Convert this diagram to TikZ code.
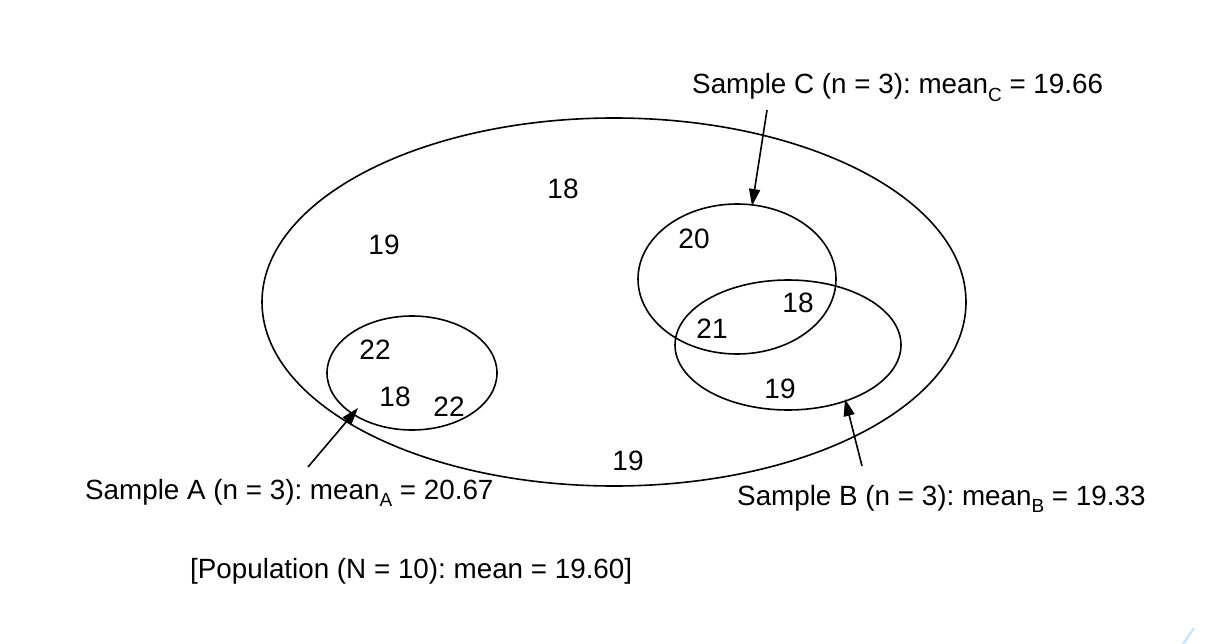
\documentclass[tikz,border=0pt]{standalone}
\usepackage{fontspec}
\setmainfont{Liberation Sans}
\usetikzlibrary{arrows.meta}
\frenchspacing
\definecolor{faintblue}{RGB}{200,225,250}
\newcommand{\lowsub}[1]{\raisebox{-0.28em}{\fontsize{19pt}{20pt}\selectfont #1}}
\begin{document}
\begin{tikzpicture}[x=1pt,y=-1pt,
  ring/.style={draw=black,line width=1.6pt},
  num/.style={font=\fontsize{28pt}{30pt}\selectfont,inner sep=0pt},
  lab/.style={font=\fontsize{27.8pt}{30pt}\selectfont,inner sep=0pt,anchor=base west},
  pointer/.style={draw=black,line width=1.6pt,-{Triangle[length=17pt,width=11pt]}}]
\useasboundingbox (0,0) rectangle (1222,644);
% ellipses
\draw[ring] (614,302) ellipse [x radius=352, y radius=184];
\draw[ring] (412,373) ellipse [x radius=85, y radius=57];
\draw[ring] (737,279) ellipse [x radius=99, y radius=75];
\draw[ring] (788,345) ellipse [x radius=113, y radius=65];
% numbers
\node[num] (n1) at (563,189) {18};
\node[num] (n2) at (384,245) {19};
\node[num] (n3) at (375,350) {22};
\node[num] (n4) at (395,397) {18};
\node[num] (n5) at (449,407) {22};
\node[num] (n6) at (694,239) {20};
\node[num] (n7) at (798,303) {18};
\node[num] (n8) at (712,329) {21};
\node[num] (n9) at (780,389) {19};
\node[num] (n10) at (628,461) {19};
% labels
\node[lab] (labC) at (692,94) {Sample C (n = 3): mean\lowsub{C} = 19.66};
\node[lab] (labA) at (85,499) {Sample A (n = 3): mean\lowsub{A} = 20.67};
\node[lab] (labB) at (737,505) {Sample B (n = 3): mean\lowsub{B} = 19.33};
\node[lab] (labP) at (190,578) {[Population (N = 10): mean = 19.60]};
% arrow anchors
\coordinate (cs) at (767,110);
\coordinate (ce) at (752,206);
\coordinate (as) at (308,467);
\coordinate (ae) at (358,408);
\coordinate (bs) at (862,466);
\coordinate (be) at (845,399);
\draw[pointer] (cs) -- (ce);
\draw[pointer] (as) -- (ae);
\draw[pointer] (bs) -- (be);
% faint corner mark
\coordinate (m1) at (1183,644);
\coordinate (m2) at (1194,628);
\draw[line width=2pt,color=faintblue] (m1) -- (m2);
\end{tikzpicture}
\end{document}
